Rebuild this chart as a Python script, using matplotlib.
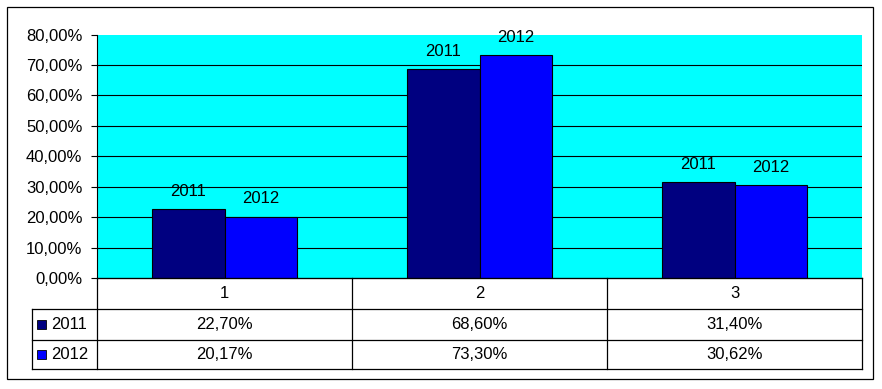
import matplotlib
matplotlib.use("Agg")
import matplotlib.pyplot as plt
from matplotlib.lines import Line2D
from matplotlib.patches import Rectangle

categories = ["1", "2", "3"]
series_names = ["2011", "2012"]
values_2011 = [22.70, 68.60, 31.40]
values_2012 = [20.17, 73.30, 30.62]
colors = ["#000080", "#0000FF"]
yticks = [0, 10, 20, 30, 40, 50, 60, 70, 80]

plt.rcParams['font.family'] = ['Liberation Sans', 'DejaVu Sans']
FS = 12

W, H = 882, 389
fig = plt.figure(figsize=(W / 100, H / 100), dpi=100)

def fx(x):
    return x / W

def fy(y):
    return 1 - y / H

ax_l, ax_r, ax_t, ax_b = 97, 862, 34.6, 278
ax = fig.add_axes([fx(ax_l), fy(ax_b), fx(ax_r - ax_l), (ax_b - ax_t) / H])
ax.set_facecolor("#00FFFF")
ax.set_xlim(0, 3)
ax.set_ylim(0, 80)

bw = 0.285
all_vals = [values_2011, values_2012]
for s, (name, vals) in enumerate(zip(series_names, all_vals)):
    xs = [i + 0.5 + (s - 0.5) * bw for i in range(len(categories))]
    ax.bar(xs, vals, width=bw, color=colors[s], edgecolor="black", linewidth=0.8, zorder=3)
    for x, v in zip(xs, vals):
        ax.annotate(name, (x, v), xytext=(0, 9.5), textcoords="offset points",
                    ha="center", va="baseline", fontsize=FS, color="black",
                    annotation_clip=False, clip_on=False, zorder=4)

ax.set_yticks(yticks)
ax.set_yticklabels([f"{t:.2f}".replace(".", ",") + "%" for t in yticks], fontsize=FS)
for t in yticks[1:-1]:
    ax.axhline(t, color="black", linewidth=0.8, zorder=1)
ax.set_xticks([])
ax.tick_params(axis="y", length=4, width=0.8, pad=6.5, direction="out")
for sp in ["top", "right"]:
    ax.spines[sp].set_visible(False)
ax.spines["left"].set_linewidth(0.8)
ax.spines["bottom"].set_linewidth(0.8)

# data table
rows_y = [278, 309, 339.5, 369]
tab_l = 32
col_x = [ax_l + (ax_r - ax_l) * i / 3 for i in range(4)]
lw = 0.9

def hline(x0, x1, y):
    fig.add_artist(Line2D([fx(x0), fx(x1)], [fy(y), fy(y)], color="black", linewidth=lw))

def vline(x, y0, y1):
    fig.add_artist(Line2D([fx(x), fx(x)], [fy(y0), fy(y1)], color="black", linewidth=lw))

hline(ax_l, ax_r, rows_y[0])
hline(tab_l, ax_r, rows_y[1])
hline(tab_l, ax_r, rows_y[2])
hline(tab_l, ax_r, rows_y[3])
for x in col_x:
    vline(x, rows_y[0], rows_y[3])
vline(tab_l, rows_y[1], rows_y[3])

for i, c in enumerate(categories):
    cx = (col_x[i] + col_x[i + 1]) / 2
    fig.text(fx(cx), fy((rows_y[0] + rows_y[1]) / 2), c, ha="center", va="center", fontsize=FS)

for s, (name, vals) in enumerate(zip(series_names, all_vals)):
    cy = (rows_y[s + 1] + rows_y[s + 2]) / 2
    fig.add_artist(Rectangle((fx(37), fy(cy + 4.5)), 9 / W, 9 / H, facecolor=colors[s],
                             edgecolor="black", linewidth=0.6, transform=fig.transFigure))
    fig.text(fx(51), fy(cy), name, ha="left", va="center", fontsize=FS)
    for i, v in enumerate(vals):
        cx = (col_x[i] + col_x[i + 1]) / 2
        fig.text(fx(cx), fy(cy), f"{v:.2f}".replace(".", ",") + "%", ha="center", va="center", fontsize=FS)

# outer border
fig.add_artist(Rectangle((fx(7), fy(379)), (873 - 7) / W, (379 - 7) / H, facecolor="none",
                         edgecolor="black", linewidth=0.9, transform=fig.transFigure))

fig.savefig("out.png", dpi=100)
